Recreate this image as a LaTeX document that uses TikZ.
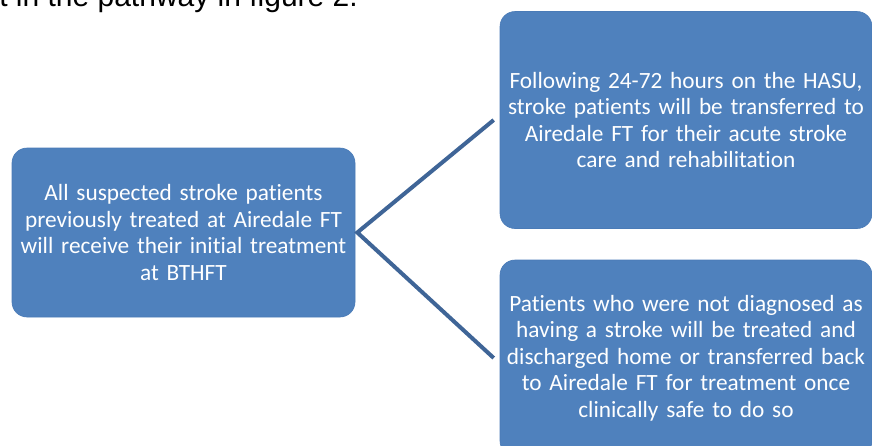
\documentclass[tikz,border=0pt]{standalone}
\usepackage{fontspec}
\setmainfont{Carlito}[Ligatures=NoCommon]
\newfontfamily\topfont{Liberation Sans}
\definecolor{boxblue}{HTML}{4F81BD}
\definecolor{boxedge}{HTML}{4A7BB7}
\definecolor{linkblue}{HTML}{3F6597}
\begin{document}
\begin{tikzpicture}[x=1pt,y=-1pt,
  stagebox/.style={rectangle, rounded corners=15pt, fill=boxblue, draw=boxedge, line width=0.6pt,
    text=white, align=center, inner sep=0pt,
    font=\fontsize{23.3}{26.5}\selectfont},
  link/.style={draw=linkblue, line width=4pt}]
\useasboundingbox (0,0) rectangle (872,445);
\node[anchor=base east, font=\topfont\fontsize{30}{34}\selectfont, inner sep=0pt] (cap) at (358,6.5) {t in the pathway in figure 2.};
\node[stagebox, minimum width=343pt, minimum height=169pt, text width=340pt] (l) at (183.5,232.5)
  {All suspected stroke patients\\previously treated at Airedale FT\\will receive their initial treatment\\at BTHFT};
\node[stagebox, minimum width=372pt, minimum height=217pt, text width=370pt] (tr) at (686,120)
  {Following 24-72 hours on the HASU,\\stroke patients will be transferred to\\Airedale FT for their acute stroke\\care and rehabilitation};
\node[stagebox, minimum width=372pt, minimum height=196pt, text width=370pt] (br) at (686,358)
  {Patients who were not diagnosed as\\having a stroke will be treated and\\discharged home or transferred back\\to Airedale FT for treatment once\\clinically safe to do so};
\coordinate (apex) at ([xshift=2pt]l.east);
\coordinate (t1) at ([xshift=-6pt]tr.west);
\coordinate (t2) at ([xshift=-6pt]br.west);
\draw[link] (t1) -- (apex) -- (t2);
\end{tikzpicture}
\end{document}
